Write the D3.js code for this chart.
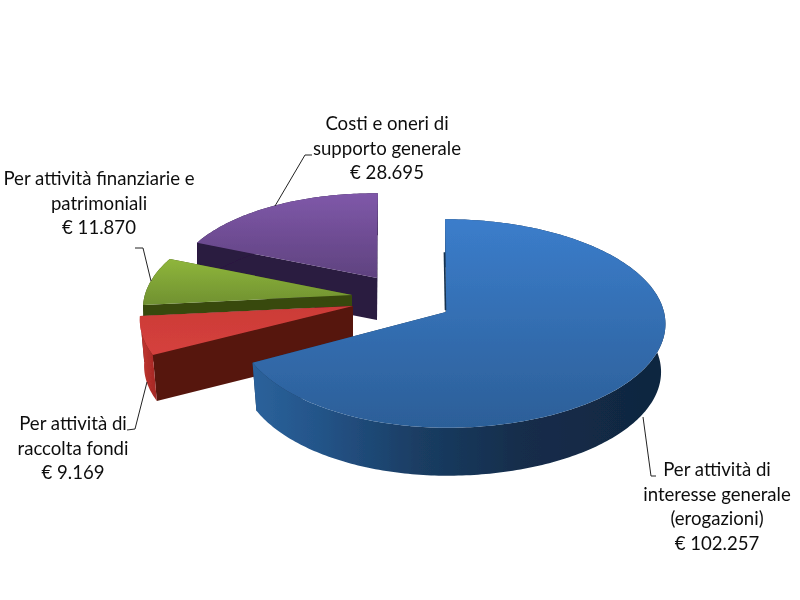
<!DOCTYPE html>
<html><head><meta charset="utf-8">
<style>html,body{margin:0;background:#fff}svg{display:block}text{font-family:Lato,"Open Sans",sans-serif;font-size:18.6px;fill:#111;text-anchor:middle}</style>
<script src="https://cdn.jsdelivr.net/npm/d3@7/dist/d3.min.js"></script>
</head><body><script>
// DATA
const categories = ["Per attività di interesse generale (erogazioni)","Per attività di raccolta fondi","Per attività finanziarie e patrimoniali","Costi e oneri di supporto generale"];
const values = [102257, 9169, 11870, 28695];
const valueLabels = ["€ 102.257","€ 9.169","€ 11.870","€ 28.695"];
const labelLines = [["Per attività di","interesse generale","(erogazioni)"],["Per attività di","raccolta fondi"],["Per attività finanziarie e","patrimoniali"],["Costi e oneri di","supporto generale"]];

// LAYOUT & STYLE
const W=800,H=600,persp=0.11;
const layout=[
 {ox:446,oy:312,aL:208,aR:218,b:-1,c:0,d:-103,depth:48,s:.98,top:["#3b7dcb","#2c5f98"],y0:219,y1:428,cut:"#16324f",wall:"bw",tick:true},
 {ox:353,oy:306,aL:211,aR:211,b:7,c:.8,d:-101,depth:46,s:.98,top:["#cc3b37","#d5413d"],y0:306,y1:356,cut:"#57150f",wall:"rw"},
 {ox:352,oy:295,aL:207,aR:207,b:6,c:.5,d:-99,depth:11,s:1,top:["#8fb63c","#6f9030"],y0:259,y1:306,cut:"#38480f",wall:"#38480f"},
 {ox:377,oy:278,aL:202.5,aR:202.5,b:1,c:1.6,d:-94,depth:42,s:1,top:["#7f58a9","#5f427f"],y0:193,y1:278,cut:"#2a1a40",wall:"#2a1a40"}
];
const labelPos=[{x:717,y:476,lead:d3.line()([[643,417],[651,476],[656,476]])},
 {x:73,y:430,lead:d3.line()([[147,382],[135,429],[127,430]])},
 {x:99,y:185,lead:d3.line()([[151,281],[143,248],[135,248]])},
 {x:387,y:130,lead:d3.line()([[275,206],[305,155],[312,155]])}];
const lineStep=24.6;

const svg=d3.select("body").append("svg").attr("width",W).attr("height",H);
const defs=svg.append("defs");
defs.append("filter").attr("id","soft").attr("x","-5%").attr("y","-5%").attr("width","110%").attr("height","110%")
  .append("feGaussianBlur").attr("stdDeviation",.55);
defs.append("filter").attr("id","softT").append("feGaussianBlur").attr("stdDeviation",.3);
function vgrad(id,cols,y0,y1){const g=defs.append("linearGradient").attr("id",id).attr("gradientUnits","userSpaceOnUse").attr("x1",0).attr("x2",0).attr("y1",y0).attr("y2",y1);
  cols.forEach((c,i)=>g.append("stop").attr("offset",i/(cols.length-1)).attr("stop-color",c));}
function hgrad(id,stops,x0,x1){const g=defs.append("linearGradient").attr("id",id).attr("gradientUnits","userSpaceOnUse").attr("y1",0).attr("y2",0).attr("x1",x0).attr("x2",x1);
  stops.forEach(([o,c])=>g.append("stop").attr("offset",o).attr("stop-color",c));}
hgrad("bw",[[0,"#2b629b"],[.15,"#24558a"],[.4,"#1a3d63"],[.65,"#142d4b"],[1,"#10263f"]],253,665);
hgrad("rw",[[0,"#c33531"],[1,"#a02723"]],140,158);

const pie=d3.pie().sort(null).startAngle(0).endAngle(2*Math.PI)(values);
const line=d3.line();
function pt(L,th,r=1,bottom=false){
  const u=r*Math.sin(th),v=r*Math.cos(th),w=1+persp*v,p=u/w,q=v/w;
  let X=(p<0?L.aL:L.aR)*p+L.b*q,Y=L.c*p+L.d*q;
  if(bottom){X*=L.s;Y+=L.depth;}
  return [L.ox+X,L.oy+Y];
}
const marks=svg.append("g").attr("filter","url(#soft)");
// back-to-front order
[3,2,1,0].forEach(i=>{
  const a=pie[i],L=layout[i],g=marks.append("g");
  const n=Math.max(8,Math.ceil((a.endAngle-a.startAngle)*60));
  const ths=d3.range(n+1).map(k=>a.startAngle+(a.endAngle-a.startAngle)*k/n);
  vgrad("top"+i,L.top,L.y0,L.y1);
  // cut faces
  [a.startAngle,a.endAngle].forEach(t=>g.append("path")
     .attr("d",line([pt(L,t,0),pt(L,t),pt(L,t,1,true),pt(L,t,0,true)])+"Z").attr("fill",L.cut));
  // outer wall
  g.append("path").attr("d",line(ths.map(t=>pt(L,t)).concat(ths.slice().reverse().map(t=>pt(L,t,1,true))))+"Z")
   .attr("fill",L.wall.startsWith("#")?L.wall:`url(#${L.wall})`);
  // top
  g.append("path").attr("d",line([pt(L,0,0)].concat(ths.map(t=>pt(L,t))))+"Z").attr("fill",`url(#top${i})`);
  if(L.tick){const p=pt(L,a.startAngle,.62),q=pt(L,a.startAngle,.02);
    g.append("path").attr("d",line([[p[0]-1,p[1]],[q[0]-.5,q[1]]])).attr("stroke",L.cut).attr("stroke-width",1.6).attr("fill","none");}
});
const labels=svg.append("g").attr("filter","url(#softT)");
categories.forEach((c,i)=>{
  labels.append("path").attr("d",labelPos[i].lead).attr("fill","none").attr("stroke","#222").attr("stroke-width",1);
  const t=labels.append("text");
  labelLines[i].concat([valueLabels[i]]).forEach((s,k)=>t.append("tspan").attr("x",labelPos[i].x).attr("y",labelPos[i].y+k*lineStep).text(s));
});
</script></body></html>
